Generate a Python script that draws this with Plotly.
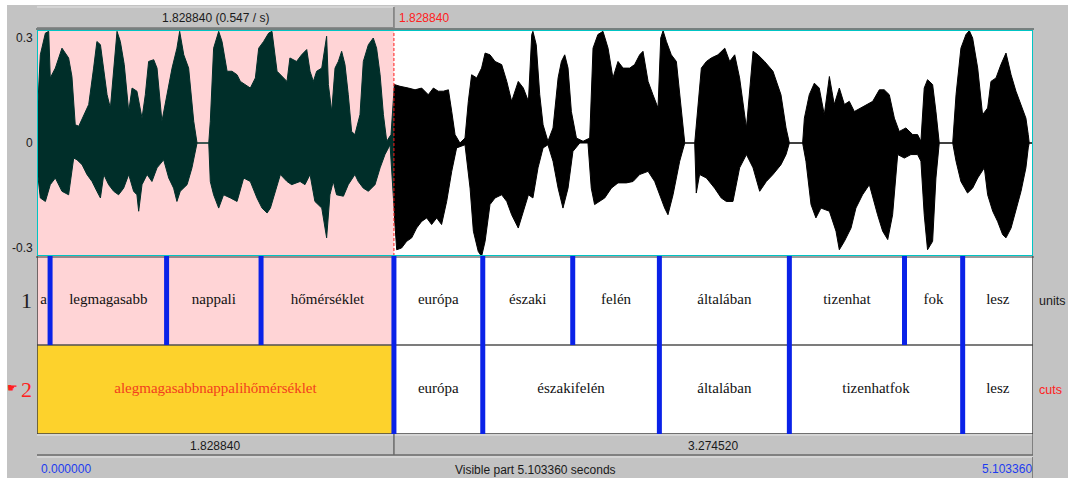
import plotly.graph_objects as go

W, H = 1068, 478

DURATION = 5.10336
SEL_END = 1.82884

# Waveform envelope (seconds, amplitude)
up_t = [0.000, 0.017, 0.043, 0.060, 0.068, 0.094, 0.128, 0.162, 0.179, 0.196, 0.214, 0.239, 0.265, 0.290,
        0.307, 0.325, 0.342, 0.359, 0.376, 0.393, 0.410, 0.427, 0.447, 0.470, 0.487, 0.512, 0.538, 0.555,
        0.572, 0.598, 0.615, 0.640, 0.666, 0.692, 0.717, 0.731, 0.752, 0.777, 0.803, 0.820, 0.880, 0.888,
        0.905, 0.931, 0.948, 0.974, 0.999, 1.025, 1.042, 1.068, 1.093, 1.119, 1.136, 1.161, 1.187, 1.204,
        1.230, 1.281, 1.296, 1.330, 1.356, 1.382, 1.399, 1.416, 1.433, 1.459, 1.484, 1.493, 1.510, 1.527,
        1.544, 1.561, 1.578, 1.595, 1.612, 1.629, 1.655, 1.672, 1.698, 1.723, 1.740, 1.758, 1.775, 1.792,
        1.814, 1.831, 1.860, 1.903, 1.937, 1.971, 2.005, 2.031, 2.056, 2.082, 2.108, 2.125, 2.142, 2.167,
        2.193, 2.210, 2.227, 2.253, 2.278, 2.296, 2.321, 2.347, 2.381, 2.407, 2.432, 2.466, 2.492, 2.518,
        2.535, 2.541, 2.558, 2.576, 2.593, 2.618, 2.644, 2.670, 2.687, 2.704, 2.721, 2.738, 2.764, 2.798,
        2.832, 2.849, 2.874, 2.900, 2.926, 2.951, 2.977, 3.003, 3.037, 3.062, 3.088, 3.105, 3.131, 3.156,
        3.182, 3.196, 3.208, 3.225, 3.250, 3.276, 3.301, 3.319, 3.370, 3.387, 3.404, 3.430, 3.455, 3.489,
        3.524, 3.549, 3.575, 3.600, 3.635, 3.669, 3.694, 3.728, 3.771, 3.812, 3.838, 3.855, 3.923, 3.932,
        3.957, 3.983, 4.008, 4.034, 4.060, 4.085, 4.111, 4.137, 4.162, 4.188, 4.222, 4.248, 4.282, 4.316,
        4.341, 4.367, 4.393, 4.418, 4.452, 4.487, 4.512, 4.529, 4.546, 4.563, 4.589, 4.606, 4.623, 4.692,
        4.709, 4.734, 4.760, 4.777, 4.794, 4.820, 4.845, 4.871, 4.888, 4.914, 4.939, 4.965, 4.991, 5.016,
        5.042, 5.067, 5.079, 5.084, 5.103]
up_a = [0.060, 0.252, 0.314, 0.319, 0.186, 0.214, 0.271, 0.243, 0.190, 0.052, 0.048, 0.081, 0.110, 0.214,
        0.290, 0.281, 0.205, 0.138, 0.100, 0.214, 0.319, 0.290, 0.224, 0.090, 0.157, 0.148, 0.071, 0.138,
        0.233, 0.238, 0.214, 0.062, 0.138, 0.214, 0.271, 0.319, 0.252, 0.214, 0.062, 0.000, 0.000, 0.062,
        0.271, 0.319, 0.290, 0.205, 0.205, 0.195, 0.176, 0.167, 0.157, 0.186, 0.271, 0.290, 0.314, 0.319,
        0.205, 0.176, 0.243, 0.233, 0.252, 0.267, 0.205, 0.176, 0.205, 0.214, 0.305, 0.167, 0.090, 0.214,
        0.233, 0.262, 0.224, 0.138, 0.033, 0.024, 0.081, 0.233, 0.281, 0.300, 0.271, 0.195, 0.081, 0.005,
        0.024, 0.167, 0.162, 0.157, 0.152, 0.157, 0.138, 0.157, 0.148, 0.148, 0.152, 0.090, 0.024, 0.000,
        0.014, 0.119, 0.195, 0.186, 0.214, 0.257, 0.252, 0.233, 0.224, 0.176, 0.119, 0.176, 0.157, 0.119,
        0.310, 0.319, 0.281, 0.138, 0.052, 0.005, 0.043, 0.186, 0.233, 0.252, 0.214, 0.090, 0.014, 0.005,
        0.014, 0.271, 0.310, 0.319, 0.271, 0.186, 0.233, 0.214, 0.214, 0.224, 0.252, 0.262, 0.176, 0.138,
        0.100, 0.300, 0.321, 0.290, 0.252, 0.233, 0.090, 0.000, 0.000, 0.119, 0.214, 0.233, 0.243, 0.252,
        0.271, 0.233, 0.252, 0.186, 0.043, 0.262, 0.252, 0.233, 0.205, 0.138, 0.043, 0.000, 0.000, 0.071,
        0.138, 0.171, 0.157, 0.081, 0.190, 0.110, 0.157, 0.110, 0.119, 0.090, 0.100, 0.110, 0.119, 0.152,
        0.152, 0.138, 0.071, 0.033, 0.043, 0.024, 0.024, 0.005, 0.157, 0.181, 0.167, 0.090, 0.000, 0.000,
        0.138, 0.271, 0.310, 0.321, 0.300, 0.214, 0.081, 0.100, 0.176, 0.186, 0.224, 0.257, 0.195, 0.148,
        0.110, 0.071, 0.024, 0.000, 0.000]

lo_t = [0.000, 0.017, 0.043, 0.068, 0.094, 0.128, 0.162, 0.188, 0.205, 0.231, 0.256, 0.282, 0.307, 0.325,
        0.342, 0.367, 0.393, 0.418, 0.444, 0.470, 0.495, 0.512, 0.521, 0.538, 0.564, 0.589, 0.615, 0.649,
        0.675, 0.700, 0.717, 0.734, 0.769, 0.794, 0.820, 0.880, 0.888, 0.905, 0.931, 0.956, 0.991, 1.025,
        1.059, 1.093, 1.127, 1.153, 1.179, 1.196, 1.221, 1.247, 1.281, 1.305, 1.348, 1.373, 1.399, 1.424,
        1.459, 1.484, 1.501, 1.518, 1.535, 1.570, 1.595, 1.629, 1.646, 1.672, 1.698, 1.732, 1.758, 1.783,
        1.809, 1.826, 1.843, 1.868, 1.894, 1.920, 1.945, 1.971, 1.997, 2.022, 2.048, 2.073, 2.099, 2.125,
        2.150, 2.193, 2.219, 2.236, 2.261, 2.278, 2.296, 2.321, 2.347, 2.381, 2.407, 2.432, 2.466, 2.492,
        2.518, 2.541, 2.567, 2.593, 2.618, 2.644, 2.670, 2.695, 2.721, 2.746, 2.781, 2.823, 2.840, 2.857,
        2.883, 2.909, 2.943, 2.977, 3.020, 3.054, 3.088, 3.131, 3.165, 3.190, 3.216, 3.233, 3.259, 3.293,
        3.319, 3.370, 3.378, 3.395, 3.430, 3.472, 3.506, 3.532, 3.566, 3.600, 3.635, 3.669, 3.703, 3.737,
        3.771, 3.812, 3.838, 3.855, 3.923, 3.940, 3.966, 3.991, 4.017, 4.060, 4.094, 4.111, 4.137, 4.171,
        4.196, 4.230, 4.265, 4.307, 4.333, 4.359, 4.384, 4.410, 4.444, 4.478, 4.512, 4.529, 4.546, 4.563,
        4.589, 4.606, 4.623, 4.692, 4.709, 4.734, 4.768, 4.794, 4.820, 4.854, 4.871, 4.897, 4.922, 4.948,
        4.965, 4.991, 5.016, 5.042, 5.067, 5.079, 5.084, 5.103]
lo_a = [-0.071, -0.157, -0.167, -0.119, -0.100, -0.138, -0.148, -0.043, -0.048, -0.062, -0.090, -0.110,
        -0.138, -0.157, -0.090, -0.119, -0.138, -0.148, -0.129, -0.090, -0.138, -0.148, -0.195, -0.119,
        -0.090, -0.110, -0.071, -0.048, -0.100, -0.129, -0.167, -0.138, -0.119, -0.071, 0.000, 0.000,
        -0.110, -0.148, -0.186, -0.148, -0.157, -0.167, -0.100, -0.110, -0.157, -0.186, -0.200, -0.186,
        -0.138, -0.090, -0.110, -0.119, -0.110, -0.119, -0.090, -0.167, -0.186, -0.271, -0.148, -0.110,
        -0.148, -0.152, -0.119, -0.090, -0.110, -0.129, -0.138, -0.119, -0.071, -0.033, -0.005, -0.167,
        -0.305, -0.300, -0.281, -0.271, -0.243, -0.224, -0.214, -0.233, -0.214, -0.233, -0.167, -0.081,
        -0.014, -0.005, -0.129, -0.252, -0.310, -0.324, -0.281, -0.176, -0.157, -0.148, -0.167, -0.205,
        -0.243, -0.195, -0.148, -0.157, -0.071, -0.014, -0.005, -0.052, -0.129, -0.186, -0.129, -0.024,
        0.000, 0.000, -0.129, -0.176, -0.167, -0.157, -0.129, -0.114, -0.114, -0.110, -0.090, -0.081,
        -0.110, -0.148, -0.186, -0.205, -0.148, -0.052, 0.000, 0.000, -0.143, -0.090, -0.100, -0.129,
        -0.157, -0.167, -0.167, -0.071, -0.033, -0.071, -0.138, -0.110, -0.090, -0.062, -0.033, 0.000,
        0.000, -0.052, -0.176, -0.214, -0.186, -0.195, -0.252, -0.305, -0.281, -0.243, -0.186, -0.148,
        -0.119, -0.205, -0.252, -0.276, -0.205, -0.033, -0.043, -0.033, -0.033, -0.052, -0.205, -0.305,
        -0.281, -0.100, 0.000, 0.000, -0.052, -0.110, -0.143, -0.129, -0.100, -0.071, -0.148, -0.195,
        -0.224, -0.262, -0.271, -0.243, -0.195, -0.138, -0.071, -0.014, 0.000, 0.000]

# TextGrid tiers
tier1_bounds = [0.067, 0.664, 1.148, 1.82884, 2.284, 2.745, 3.189, 3.855, 4.445, 4.743]
tier1_labels = ["a", "legmagasabb", "nappali", "hőmérséklet", "európa", "északi", "felén",
                "általában", "tizenhat", "fok", "lesz"]
tier2_bounds = [1.82884, 2.284, 3.189, 3.855, 4.743]
tier2_labels = ["alegmagasabbnappalihőmérséklet", "európa", "északifelén", "általában",
                "tizenhatfok", "lesz"]
tier_names = ["units", "cuts"]
amp_ticks = [0.3, 0.0, -0.3]
amp_tick_text = ["0.3", "0", "-0.3"]

GRAY = "#c3c3c3"
PINK = "#ffd4d6"
YELLOW = "#fdd22c"
TEAL = "#002e29"
CYAN = "#00c4c4"
BLUE = "#0a22e8"
RED = "#ff2020"
DARK = "#404040"
SANS = "Liberation Sans, Arial, sans-serif"
SERIF = "Liberation Serif, Times New Roman, serif"

# pixel geometry of the editor window
LEFT, RIGHT = 37, 1033
WAVE_TOP, WAVE_BOT = 30, 256
TIER_BOT = 434
AMP_MAX = 0.3229


def px(x):
    return x / W


def py(y):
    return 1 - y / H


x_sel = LEFT + (RIGHT - LEFT) * SEL_END / DURATION


def mids(bounds, start=0.0, end=DURATION):
    edges = [start] + list(bounds) + [end]
    return [(a + b) / 2 for a, b in zip(edges[:-1], edges[1:])]


poly_t = up_t + lo_t[::-1]
poly_a = up_a + lo_a[::-1]

fig = go.Figure()
# selected part of the sound (clipped to the selection by its axis)
fig.add_trace(go.Scatter(x=poly_t, y=poly_a, xaxis="x3", yaxis="y", mode="lines",
                         fill="toself", fillcolor=TEAL, line=dict(color=TEAL, width=1),
                         hoverinfo="skip", showlegend=False))
# rest of the sound
fig.add_trace(go.Scatter(x=poly_t, y=poly_a, xaxis="x4", yaxis="y", mode="lines",
                         fill="toself", fillcolor="black", line=dict(color="black", width=1),
                         hoverinfo="skip", showlegend=False))

# interval labels
m1 = mids(tier1_bounds)
m2 = mids(tier2_bounds)
fig.add_trace(go.Scatter(x=m1, y=[1.5] * len(m1), xaxis="x", yaxis="y2", mode="text",
                         text=tier1_labels, textposition="middle center",
                         textfont=dict(family=SERIF, size=15, color="#111111"),
                         cliponaxis=False, hoverinfo="skip", showlegend=False))
fig.add_trace(go.Scatter(x=m2, y=[0.5] * len(m2), xaxis="x", yaxis="y2", mode="text",
                         text=tier2_labels, textposition="middle center",
                         textfont=dict(family=SERIF, size=15,
                                       color=["#f2401e"] + ["#111111"] * (len(m2) - 1)),
                         cliponaxis=False, hoverinfo="skip", showlegend=False))

shapes = []


def rect(x0, x1, y0, y1, xref="paper", yref="paper", fill=None, line=None, layer="below", lw=0):
    shapes.append(dict(type="rect", xref=xref, yref=yref, x0=x0, x1=x1, y0=y0, y1=y1,
                       fillcolor=fill, line=dict(color=line or "rgba(0,0,0,0)", width=lw),
                       layer=layer))


def seg(x0, x1, y0, y1, color, width=1, xref="paper", yref="paper", dash=None, layer="above"):
    ln = dict(color=color, width=width)
    if dash:
        ln["dash"] = dash
    shapes.append(dict(type="line", xref=xref, yref=yref, x0=x0, x1=x1, y0=y0, y1=y1,
                       line=ln, layer=layer))


# window background
rect(px(7), 1, 0, py(5), fill=GRAY)
# sound and tier panels
rect(0, DURATION, -AMP_MAX, AMP_MAX, xref="x", yref="y", fill="white")
rect(0, SEL_END, -AMP_MAX, AMP_MAX, xref="x", yref="y", fill=PINK)
rect(0, DURATION, 0, 2, xref="x", yref="y2", fill="white")
rect(0, SEL_END, 1, 2, xref="x", yref="y2", fill=PINK)
rect(0, SEL_END, 0, 1, xref="x", yref="y2", fill=YELLOW)

# cursor
seg(SEL_END, SEL_END, -AMP_MAX, AMP_MAX, "#ff1a1a", 1, xref="x", yref="y", dash="3px,2px")

# panel frames
seg(px(LEFT - 1), px(RIGHT + 1), py(29), py(29), "#2a3c3a", 1)
rect(0, DURATION, -AMP_MAX, AMP_MAX, xref="x", yref="y", line=CYAN, lw=2, layer="above")
seg(px(LEFT - 1), px(RIGHT + 1), py(257), py(257), "#3a3a3a", 1)
seg(0, DURATION, 1, 1, "#505050", 1.5, xref="x", yref="y2")
seg(0, DURATION, 0, 0, "#404040", 1.5, xref="x", yref="y2")
seg(0, 0, 0, 2, "#404040", 1.5, xref="x", yref="y2")
seg(DURATION, DURATION, 0, 2, "#404040", 1.5, xref="x", yref="y2")

# interval boundaries
for b in tier1_bounds:
    seg(b, b, 1, 2, BLUE, 5, xref="x", yref="y2")
for b in tier2_bounds:
    seg(b, b, 0, 1, BLUE, 5, xref="x", yref="y2")

# top bar (selection duration button)
seg(0, SEL_END, py(7), py(7), "#e6e6e6", 1, xref="x")
seg(SEL_END, SEL_END, py(7), py(28), "#7a7a7a", 1.5, xref="x")
seg(0, SEL_END, py(27.5), py(27.5), "#8a8a8a", 1, xref="x")

# bottom bar: two interval buttons
seg(0, DURATION, py(435), py(435), "#e6e6e6", 1, xref="x")
seg(SEL_END, SEL_END, py(434), py(455), "#6a6a6a", 1.5, xref="x")
seg(DURATION, DURATION, py(434), py(455), "#6a6a6a", 1.5, xref="x")
seg(0, DURATION, py(455), py(455), "#6a6a6a", 1.5, xref="x")
seg(0, DURATION, py(457), py(457), "#e6e6e6", 1, xref="x")
seg(DURATION, DURATION, py(457), py(478), "#6a6a6a", 1.5, xref="x")

ann = []


def text(x, y, s, color="#1a1a1a", size=12, family=SANS, xanchor="center", xref="paper",
         yref="paper"):
    ann.append(dict(x=x, y=y, text=s, xref=xref, yref=yref, showarrow=False,
                    xanchor=xanchor, yanchor="middle",
                    font=dict(family=family, size=size, color=color)))


text(SEL_END / 2, py(18), f"{SEL_END:.6f} ({1 / SEL_END:.3f} / s)", xref="x")
text(px(x_sel + 3), py(18), f"{SEL_END:.6f}", color=RED, xanchor="left")
for v, s in zip(amp_ticks, amp_tick_text):
    text(px(35), v, s, xanchor="right", yref="y")
text(px(34), 1.5, "1", size=22, family=SERIF, xanchor="right", yref="y2", color="#222222")
text(px(34), 0.5, "2", size=22, family=SERIF, xanchor="right", yref="y2", color=RED)
text(px(5), 0.52, "☛", size=12, family="DejaVu Sans", xanchor="left", yref="y2", color=RED)
text(px(1037), 1.5, tier_names[0], size=12.5, xanchor="left", yref="y2")
text(px(1037), 0.5, tier_names[1], size=12.5, xanchor="left", yref="y2", color=RED)
text(SEL_END / 2, py(446), f"{SEL_END:.6f}", xref="x")
text((SEL_END + DURATION) / 2, py(446), f"{DURATION - SEL_END:.6f}", xref="x")
text(px(39), py(469), "0.000000", color="#1d3cf0", xanchor="left")
text(DURATION / 2, py(470), f"Visible part {DURATION:.6f} seconds", xref="x")
text(px(1034), py(469), f"{DURATION:.6f}", color="#1d3cf0", xanchor="right")

hidden = dict(visible=False, showgrid=False, zeroline=False, fixedrange=True)
fig.update_layout(
    width=W, height=H,
    margin=dict(l=0, r=0, t=0, b=0),
    paper_bgcolor="white",
    plot_bgcolor="rgba(0,0,0,0)",
    hovermode=False,
    showlegend=False,
    xaxis=dict(domain=[px(LEFT), px(RIGHT)], range=[0, DURATION], anchor="y", **hidden),
    xaxis3=dict(domain=[px(LEFT), px(x_sel)], range=[0, SEL_END], anchor="y", **hidden),
    xaxis4=dict(domain=[px(x_sel), px(RIGHT)], range=[SEL_END, DURATION], anchor="y", **hidden),
    yaxis=dict(domain=[py(WAVE_BOT), py(WAVE_TOP)], range=[-AMP_MAX, AMP_MAX], anchor="x", **hidden),
    yaxis2=dict(domain=[py(TIER_BOT), py(WAVE_BOT)], range=[0, 2], anchor="x", **hidden),
    shapes=shapes,
    annotations=ann,
)

fig.write_html("out.html")
